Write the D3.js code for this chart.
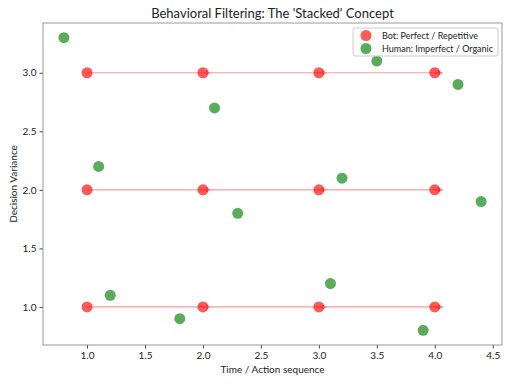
<!DOCTYPE html>
<html>
<head>
<meta charset="utf-8">
<script src="https://cdn.jsdelivr.net/npm/d3@7"></script>
<style>
  body { margin: 0; background: #fff; }
  text { font-family: "Lato", "Roboto", sans-serif; fill: #222; }
</style>
</head>
<body>
<svg width="512" height="384"></svg>
<script>
// Bot: perfect / repetitive steps
const botX = [1, 2, 3, 4];
const botLevels = [1, 2, 3];

// Human: imperfect / organic points
const humanX = [0.8, 2.1, 3.5, 4.2, 1.1, 2.3, 3.2, 4.4, 1.2, 1.8, 3.1, 3.9];
const humanY = [3.3, 2.7, 3.1, 2.9, 2.2, 1.8, 2.1, 1.9, 1.1, 0.9, 1.2, 0.8];

const xTicks = [1.0, 1.5, 2.0, 2.5, 3.0, 3.5, 4.0, 4.5];
const yTicks = [1.0, 1.5, 2.0, 2.5, 3.0];

const svg = d3.select("svg"),
    margin = { top: 23, right: 10, bottom: 39, left: 43 },
    width = +svg.attr("width") - margin.left - margin.right,
    height = +svg.attr("height") - margin.top - margin.bottom;

const chart = svg.append("g")
    .attr("transform", `translate(${margin.left},${margin.top})`);

const x = d3.scaleLinear().domain([0.62, 4.58]).range([0, width]);
const y = d3.scaleLinear().domain([0.675, 3.425]).range([height, 0]);

// axes
const xAxis = chart.append("g")
    .attr("transform", `translate(0,${height})`)
    .call(d3.axisBottom(x).tickValues(xTicks).tickFormat(d3.format(".1f")).tickSize(3.5).tickPadding(3));
const yAxis = chart.append("g")
    .call(d3.axisLeft(y).tickValues(yTicks).tickFormat(d3.format(".1f")).tickSize(3.5).tickPadding(3));
[xAxis, yAxis].forEach(a => {
    a.select(".domain").remove();
    a.selectAll("line").attr("stroke", "#444");
    a.selectAll("text").style("font-size", "10px").attr("fill", "#222");
});

// frame
chart.append("rect")
    .attr("width", width).attr("height", height)
    .attr("fill", "none").attr("stroke", "#999").attr("stroke-width", 1);

// arrow lines for bot, one arrow per step
svg.append("defs").append("marker")
    .attr("id", "arr")
    .attr("viewBox", "0 0 10 10")
    .attr("refX", 10).attr("refY", 5)
    .attr("markerWidth", 6).attr("markerHeight", 5)
    .attr("markerUnits", "userSpaceOnUse")
    .attr("orient", "auto")
    .append("path").attr("d", "M0,0L10,5L0,10z").attr("fill", "#ff8a8a");

const steps = botLevels.flatMap(lv => botX.map((bx, i) => ({
    lv: lv,
    from: bx,
    to: (i < botX.length - 1 ? botX[i + 1] : bx) + 0.07
})));

chart.selectAll(".step")
    .data(steps)
    .enter().append("line")
    .attr("class", "step")
    .attr("x1", d => x(d.from)).attr("x2", d => x(d.to))
    .attr("y1", d => y(d.lv)).attr("y2", d => y(d.lv))
    .attr("stroke", "#ff9a9a").attr("stroke-width", 1.2)
    .attr("marker-end", "url(#arr)");

// bot points
chart.selectAll(".bot")
    .data(botLevels.flatMap(lv => botX.map(bx => [bx, lv])))
    .enter().append("circle")
    .attr("class", "bot")
    .attr("cx", d => x(d[0])).attr("cy", d => y(d[1]))
    .attr("r", 5.5)
    .attr("fill", "red").attr("fill-opacity", 0.65);

// human points
chart.selectAll(".human")
    .data(humanX.map((hx, i) => [hx, humanY[i]]))
    .enter().append("circle")
    .attr("class", "human")
    .attr("cx", d => x(d[0])).attr("cy", d => y(d[1]))
    .attr("r", 5.5)
    .attr("fill", "green").attr("fill-opacity", 0.65);

// legend
const lg = svg.append("g").attr("transform", "translate(353,28)");
lg.append("rect").attr("width", 145).attr("height", 28).attr("rx", 2)
    .attr("fill", "#fff").attr("fill-opacity", 0.8).attr("stroke", "#ccc");
[["Bot: Perfect / Repetitive", "red"], ["Human: Imperfect / Organic", "green"]].forEach((e, i) => {
    lg.append("circle").attr("cx", 13).attr("cy", 7.5 + i * 13).attr("r", 5.5)
        .attr("fill", e[1]).attr("fill-opacity", 0.65);
    lg.append("text").attr("x", 29).attr("y", 7.5 + i * 13).attr("dy", "0.35em")
        .style("font-size", "9px").text(e[0]);
});

// title and labels
svg.append("text")
    .attr("x", margin.left + width / 2).attr("y", 18)
    .style("text-anchor", "middle").style("font-size", "13px")
    .text("Behavioral Filtering: The 'Stacked' Concept");

svg.append("text")
    .attr("x", margin.left + width / 2).attr("y", 373)
    .style("text-anchor", "middle").style("font-size", "10px")
    .text("Time / Action sequence");

svg.append("text")
    .attr("transform", "rotate(-90)")
    .attr("x", -(margin.top + height / 2)).attr("y", 17)
    .style("text-anchor", "middle").style("font-size", "10px")
    .text("Decision Variance");
</script>
</body>
</html>
